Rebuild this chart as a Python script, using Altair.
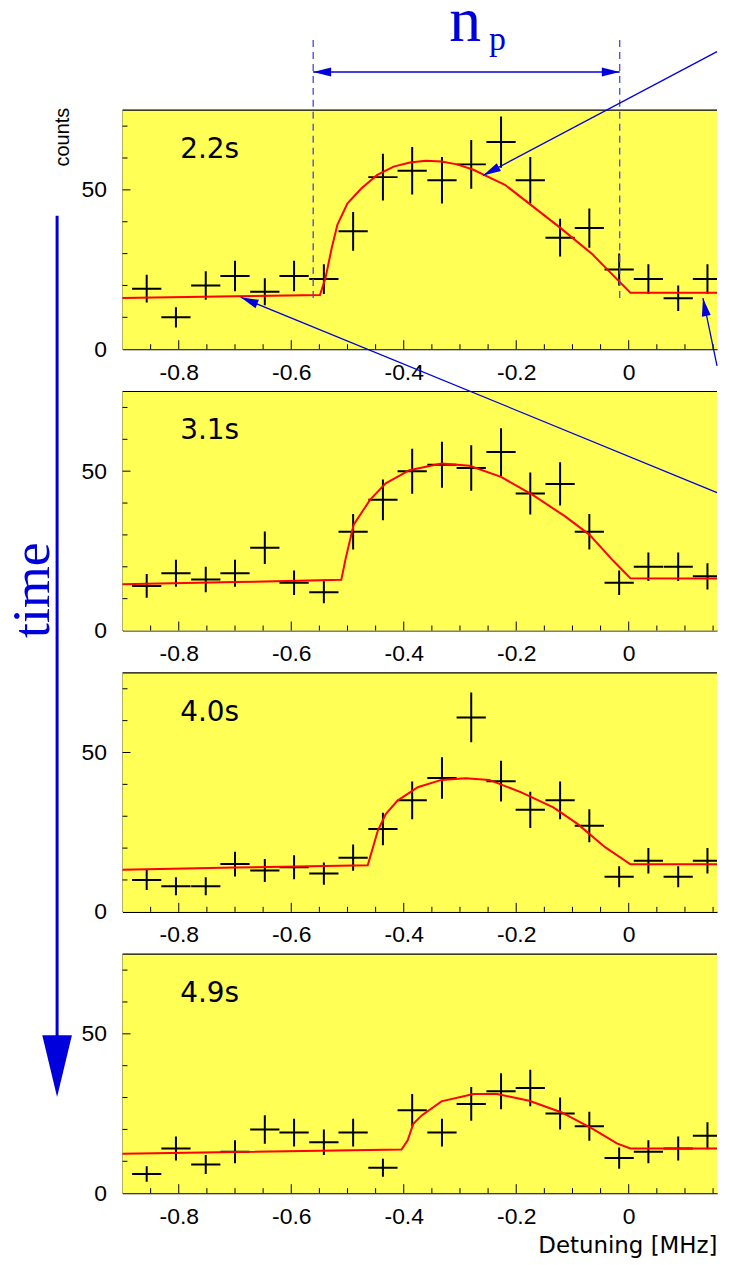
import altair as alt
import pandas as pd

# ---------------- data ----------------
x_centers = [-0.857, -0.805, -0.752, -0.700, -0.647, -0.595, -0.542, -0.490, -0.437, -0.385,
             -0.332, -0.280, -0.227, -0.175, -0.122, -0.070, -0.017, 0.035, 0.088, 0.140]
counts_22 = [19, 10, 20, 23, 18, 23, 22, 37, 54, 56, 53, 58, 65, 53, 35, 38, 25, 22, 16, 22]
counts_31 = [14, 18, 16, 18, 26, 15, 12, 31, 41, 50, 52, 51, 56, 43, 46, 31, 15, 20, 20, 17]
counts_40 = [10, 8, 8, 15, 13, 14, 12, 17, 26, 35, 42, 61, 41, 32, 35, 27, 11, 16, 11, 16]
counts_49 = [6, 14, 9, 13, 20, 19, 16, 19, 8, 26, 19, 28, 32, 33, 25, 21, 11, 13, 14, 18]

fit22_x = [-0.9, -0.7, -0.549, -0.539, -0.528, -0.518, -0.50, -0.475, -0.447, -0.418, -0.389, -0.361,
           -0.333, -0.305, -0.276, -0.248, -0.22, -0.174, -0.121, -0.064, -0.029, 0.003, 0.157]
fit22_y = [16.1, 16.6, 17.0, 22.4, 31.8, 39.0, 45.8, 50.5, 54.7, 57.3, 58.6, 59.1,
           58.9, 58.0, 56.3, 53.9, 51.6, 45.3, 38.0, 29.7, 23.4, 17.7, 17.7]
fit31_x = [-0.9, -0.7, -0.511, -0.503, -0.489, -0.46, -0.432, -0.39, -0.333, -0.283, -0.227,
           -0.17, -0.113, -0.07, -0.027, 0.003, 0.157]
fit31_y = [14.5, 15.2, 15.9, 22.8, 33.2, 41.0, 46.2, 50.3, 52.4, 51.7, 48.2,
           42.5, 35.8, 30.1, 21.8, 16.4, 16.3]
fit40_x = [-0.9, -0.7, -0.464, -0.446, -0.432, -0.411, -0.375, -0.333, -0.29, -0.248, -0.191,
           -0.134, -0.091, -0.042, 0.003, 0.157]
fit40_y = [13.2, 13.9, 14.6, 25.5, 30.7, 34.9, 39.1, 41.4, 41.9, 41.4, 37.5,
           32.8, 27.6, 20.3, 14.9, 14.9]
fit49_x = [-0.9, -0.7, -0.404, -0.393, -0.383, -0.368, -0.333, -0.276, -0.234, -0.177, -0.12,
           -0.064, -0.021, 0.003, 0.157]
fit49_y = [12.4, 12.9, 13.7, 16.6, 21.8, 24.4, 28.8, 31.1, 31.1, 29.0, 25.4,
           20.2, 15.6, 14.0, 14.0]

panel_labels = ["2.2s", "3.1s", "4.0s", "4.9s"]

x_major = [-0.8, -0.6, -0.4, -0.2, 0.0]
x_minor = [-0.85, -0.75, -0.7, -0.65, -0.55, -0.5, -0.45, -0.35, -0.3, -0.25,
           -0.15, -0.1, -0.05, 0.05, 0.1, 0.15]
y_major = [50]
y_minor = [10, 20, 30, 40, 60, 70]

# annotation anchors (data units of the panel they are drawn in)
np_bounds = [-0.561, -0.016]
np_dash_top, np_dash_bottom = 97, 16
arrow_a_x, arrow_a_y = [0.157, -0.259], [93.4, 54.5]      # panel 1, to the peak
arrow_c_x, arrow_c_y = [0.157, 0.132], [-5.2, 16.0]       # panel 1, to right baseline
arrow_b_x, arrow_b_y = [0.157, -0.690], [43.3, 104.6]     # panel 2 units, to left baseline of panel 1

# ---------------- styling ----------------
W, H = 597, 240
BLUE = "#0000DD"
YELLOW = "#FFFF55"
ARROW = "M0,0 L-2,-0.5 L-2,0.5 Z"
DOWN_ARROW = "M0,0 L-0.48,-2 L0.48,-2 Z"

xs = alt.Scale(domain=[-0.9, 0.157], nice=False, zero=False)
ys = alt.Scale(domain=[0, 75], nice=False, zero=False)


def make_xaxis(title=None):
    kw = dict(values=x_major, ticks=False, tickSize=0, grid=False, domainColor="black",
              domainWidth=1.2, labelFont="Liberation Sans", labelFontSize=23,
              labelColor="black", labelPadding=12, labelOverlap=False, labelFlush=False,
              labelExpr="datum.value == 0 ? '0' : '-' + format(abs(datum.value), '.1f')")
    if title:
        kw.update(title=title, titleFont="DejaVu Sans", titleFontSize=23, titleFontWeight="normal",
                  titleColor="black", titleX=W, titleY=60, titleAlign="right",
                  titleBaseline="alphabetic", titleAngle=0)
    else:
        kw.update(title=None)
    return alt.Axis(**kw)


yaxis = alt.Axis(values=[0, 50], ticks=False, tickSize=0, grid=False, domainColor="black",
                 domainWidth=1.2, labelFont="Liberation Sans", labelFontSize=23,
                 labelColor="black", labelPadding=16, labelFlush=False, title=None)


def one():
    return pd.DataFrame({"a": [0]})


def panel(counts, fx, fy, label, idx):
    xa = make_xaxis("Detuning [MHz]" if idx == 3 else None)

    def X(f):
        return alt.X(f, type="quantitative", scale=xs, axis=xa)

    def Y(f):
        return alt.Y(f, type="quantitative", scale=ys, axis=yaxis)

    pts = pd.DataFrame({"x": x_centers, "y": counts})
    base = alt.Chart(pts).transform_calculate(
        lo="datum.y - sqrt(datum.y)", hi="datum.y + sqrt(datum.y)",
        xl="datum.x - 0.026", xr="datum.x + 0.026")

    bg = alt.Chart(one()).mark_rect(color=YELLOW).encode(
        x=alt.value(0), x2=alt.value(W), y=alt.value(0), y2=alt.value(H))
    vbar = base.mark_rule(color="black", strokeWidth=2, clip=True).encode(
        x=X("x"), y=Y("lo"), y2="hi:Q")
    hbar = base.mark_rule(color="black", strokeWidth=2, clip=True).encode(
        x=X("xl"), x2="xr:Q", y=Y("y"))
    fit = alt.Chart(pd.DataFrame({"x": fx, "y": fy})).mark_line(
        color="#FF0000", strokeWidth=2).encode(x=X("x"), y=Y("y"))
    xmaj = alt.Chart(pd.DataFrame({"x": x_major})).mark_rule(color="black", strokeWidth=1).encode(
        x=X("x"), y=alt.value(H), y2=alt.value(H - 9))
    xmin = alt.Chart(pd.DataFrame({"x": x_minor})).mark_rule(color="black", strokeWidth=1).encode(
        x=X("x"), y=alt.value(H), y2=alt.value(H - 5))
    ymaj = alt.Chart(pd.DataFrame({"y": y_major})).mark_rule(color="black", strokeWidth=1).encode(
        y=Y("y"), x=alt.value(0), x2=alt.value(8))
    ymin = alt.Chart(pd.DataFrame({"y": y_minor})).mark_rule(color="black", strokeWidth=1).encode(
        y=Y("y"), x=alt.value(0), x2=alt.value(5))
    top = alt.Chart(one()).mark_rule(color="black", strokeWidth=1.2).encode(
        x=alt.value(0), x2=alt.value(W), y=alt.value(0))
    txt = alt.Chart(pd.DataFrame({"t": [label]})).mark_text(
        align="left", baseline="alphabetic", font="DejaVu Sans", fontSize=28,
        fontWeight="normal", color="black").encode(
        x=alt.value(58), y=alt.value(48), text="t:N")

    layers = [bg, vbar, hbar, fit, xmaj, xmin, ymaj, ymin, top, txt]

    if idx == 0:
        dash = alt.Chart(pd.DataFrame({"x": np_bounds, "top": [np_dash_top] * 2,
                                       "bot": [np_dash_bottom] * 2})).mark_rule(
            color="#4646E6", strokeWidth=1.3, strokeDash=[7, 5]).encode(
            x=X("x"), y=Y("top"), y2="bot:Q")
        layers.append(dash)
        for ax, ay in ((arrow_a_x, arrow_a_y), (arrow_c_x, arrow_c_y)):
            layers.append(alt.Chart(pd.DataFrame({"x": ax, "y": ay, "o": [0, 1]})).mark_line(
                color=BLUE, strokeWidth=1.3).encode(x=X("x"), y=Y("y"), order="o:Q"))
        heads = pd.DataFrame({"x": [arrow_a_x[1], arrow_c_x[1]], "y": [arrow_a_y[1], arrow_c_y[1]],
                              "ang": [151.9, 259.2]})
        layers.append(alt.Chart(heads).mark_point(
            shape=ARROW, size=324, filled=True, color=BLUE, opacity=1, strokeWidth=0).encode(
            x=X("x"), y=Y("y"), angle=alt.Angle("ang:Q", scale=None)))
    if idx == 1:
        layers.append(alt.Chart(pd.DataFrame({"x": arrow_b_x, "y": arrow_b_y, "o": [0, 1]})).mark_line(
            color=BLUE, strokeWidth=1.3).encode(x=X("x"), y=Y("y"), order="o:Q"))
        layers.append(alt.Chart(pd.DataFrame({"x": [arrow_b_x[1]], "y": [arrow_b_y[1]],
                                              "ang": [202.3]})).mark_point(
            shape=ARROW, size=324, filled=True, color=BLUE, opacity=1, strokeWidth=0).encode(
            x=X("x"), y=Y("y"), angle=alt.Angle("ang:Q", scale=None)))

    return alt.layer(*layers).properties(width=W, height=H)


panels = [panel(c, fx, fy, lab, i) for i, (c, fx, fy, lab) in enumerate([
    (counts_22, fit22_x, fit22_y, panel_labels[0]),
    (counts_31, fit31_x, fit31_y, panel_labels[1]),
    (counts_40, fit40_x, fit40_y, panel_labels[2]),
    (counts_49, fit49_x, fit49_y, panel_labels[3]),
])]

# ---------------- header with n_p ----------------
HH = 101
hdr_line = alt.Chart(pd.DataFrame({"x0": [np_bounds[0]], "x1": [np_bounds[1]]})).mark_rule(
    color=BLUE, strokeWidth=1.5).encode(
    x=alt.X("x0:Q", scale=xs, axis=None), x2="x1:Q", y=alt.value(62.7))
hdr_heads = alt.Chart(pd.DataFrame({"x": np_bounds, "ang": [180, 0]})).mark_point(
    shape=ARROW, size=324, filled=True, color=BLUE, opacity=1, strokeWidth=0).encode(
    x=alt.X("x:Q", scale=xs, axis=None), y=alt.value(62.7), angle=alt.Angle("ang:Q", scale=None))
hdr_n = alt.Chart(pd.DataFrame({"t": ["n"]})).mark_text(
    align="left", baseline="alphabetic", font="Liberation Serif", fontSize=64, color=BLUE).encode(
    x=alt.value(328), y=alt.value(32), text="t:N")
hdr_p = alt.Chart(pd.DataFrame({"t": ["p"]})).mark_text(
    align="left", baseline="alphabetic", font="Liberation Serif", fontSize=34, color=BLUE).encode(
    x=alt.value(368), y=alt.value(41), text="t:N")
header = alt.layer(hdr_line, hdr_heads, hdr_n, hdr_p).properties(width=W, height=HH)

# ---------------- left column: counts + time arrow ----------------
LW, LH = 116, 1188
counts_t = alt.Chart(pd.DataFrame({"t": ["counts"]})).mark_text(
    angle=270, align="center", baseline="alphabetic", font="Liberation Sans", fontSize=20,
    color="black").encode(x=alt.value(62), y=alt.value(128), text="t:N")
time_line = alt.Chart(one()).mark_rule(color=BLUE, strokeWidth=3).encode(
    x=alt.value(50.3), y=alt.value(207), y2=alt.value(1045))
time_head = alt.Chart(one()).mark_point(
    shape=DOWN_ARROW, size=3844, filled=True, color=BLUE, opacity=1, strokeWidth=0).encode(
    x=alt.value(50.3), y=alt.value(1092))
time_t = alt.Chart(pd.DataFrame({"t": ["time"]})).mark_text(
    angle=270, align="center", baseline="alphabetic", font="Liberation Serif", fontSize=54,
    color=BLUE).encode(x=alt.value(42), y=alt.value(583), text="t:N")
leftcol = alt.layer(counts_t, time_line, time_head, time_t).properties(width=LW, height=LH)

stack = alt.vconcat(*panels, spacing=42.5, bounds="flush")
right = alt.vconcat(header, stack, spacing=0, bounds="flush")
chart = alt.hconcat(leftcol, right, spacing=0, bounds="flush",
                    padding={"top": -20, "left": -2, "right": 0, "bottom": 0},
                    background="white").configure_view(strokeWidth=0)

chart.save("out.html", embed_options={"renderer": "svg", "actions": False})
